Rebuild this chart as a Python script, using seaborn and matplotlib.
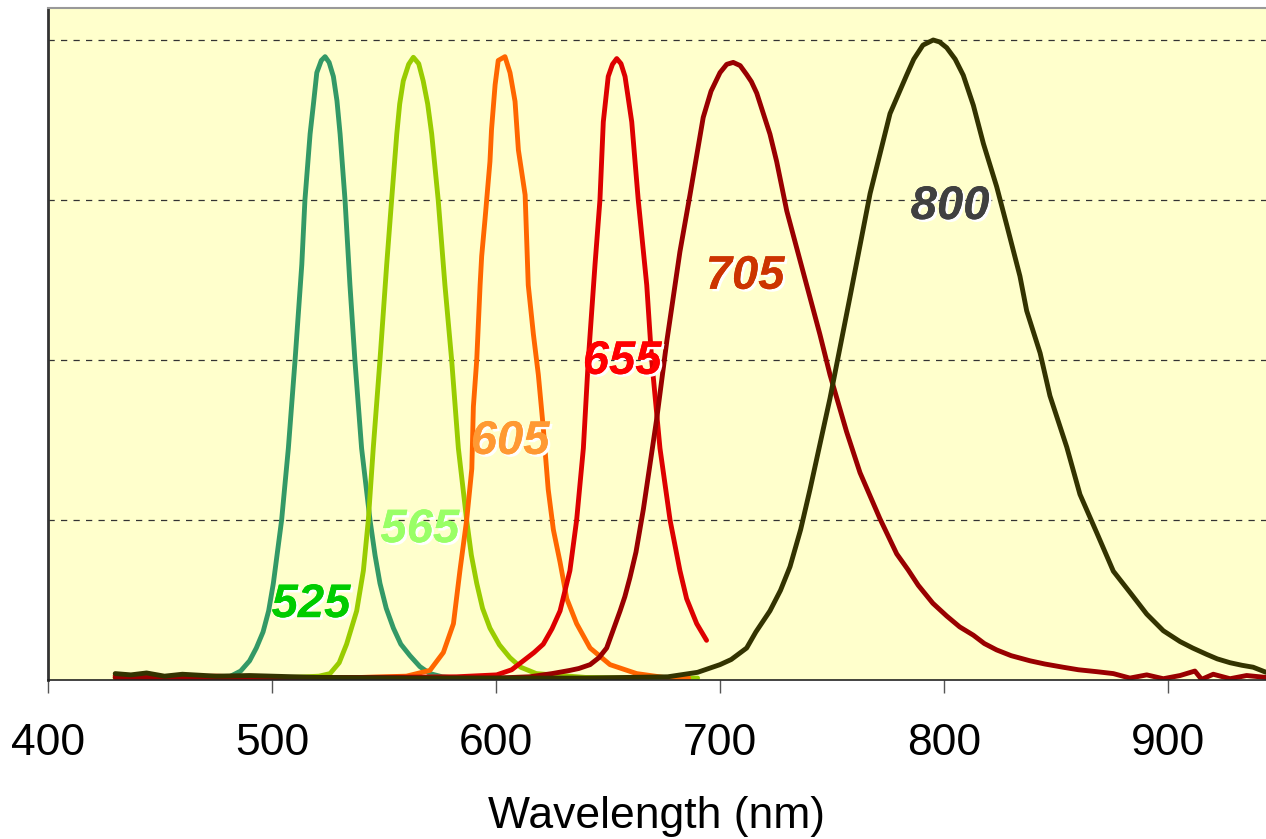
import pandas as pd
import seaborn as sns
import matplotlib.pyplot as plt
import matplotlib.patheffects as pe

# Emission spectra (wavelength in nm, normalised intensity)
wl_525 = [430, 455, 470, 481, 486, 490, 493, 496, 498.5, 500.6, 504.3, 507.3, 510.3, 513.3, 514.7,
          517, 518.5, 520, 522, 523.7, 525.5, 527.4, 529, 530.4, 532.6, 534.8, 537, 540, 543.75,
          546, 548.2, 551, 554.2, 557.5, 561.6, 566, 570.5, 576, 582.4]
int_525 = [0.006, 0.004, 0.003, 0.005, 0.014, 0.03, 0.05, 0.075, 0.108, 0.151, 0.25, 0.362, 0.5,
           0.649, 0.75, 0.853, 0.9, 0.949, 0.968, 0.974, 0.965, 0.943, 0.905, 0.853, 0.75, 0.617,
           0.5, 0.362, 0.25, 0.195, 0.151, 0.112, 0.081, 0.056, 0.038, 0.021, 0.01, 0.005, 0.003]

wl_565 = [430, 470, 500, 515.5, 521, 525.9, 530, 533.3, 537.8, 540.8, 543, 545.2, 548.2, 551.2, 553.4,
          555.7, 557, 558.6, 561, 563.1, 565.5, 567.5, 569.5, 571.3, 574.2, 577.2, 580.2, 583.2,
          586.9, 589, 591.4, 594, 597.3, 601.5, 606.2, 611, 618, 640, 665, 690]
int_565 = [0.003, 0.004, 0.003, 0.005, 0.006, 0.01, 0.027, 0.056, 0.108, 0.171, 0.25, 0.362, 0.5,
           0.649, 0.75, 0.853, 0.9, 0.936, 0.962, 0.973, 0.963, 0.936, 0.9, 0.853, 0.75, 0.617,
           0.5, 0.362, 0.25, 0.195, 0.151, 0.112, 0.081, 0.055, 0.035, 0.02, 0.01, 0.004, 0.003,
           0.003]

wl_605 = [430, 460, 500, 540, 560, 570.5, 576.5, 581, 583.9, 586.9, 589.2, 589.9, 591.4, 592.9, 593.6,
          595.1, 597.3, 598, 599.6, 601, 604, 606.25, 608.5, 610, 613, 614.4, 616.7, 618.9, 621.1,
          623.3, 625.6, 628.6, 631.6, 636, 642, 650.9, 662.8, 675, 686]
int_605 = [0.004, 0.006, 0.003, 0.004, 0.006, 0.015, 0.043, 0.088, 0.171, 0.25, 0.33, 0.427, 0.5, 0.617,
           0.662, 0.72, 0.81, 0.86, 0.93, 0.968, 0.974, 0.949, 0.904, 0.828, 0.758, 0.617, 0.54,
           0.477, 0.394, 0.298, 0.235, 0.184, 0.127, 0.088, 0.05, 0.024, 0.01, 0.004, 0.003]

wl_655 = [430, 450, 475, 500, 540, 582.4, 600.3, 607, 612.2, 617, 621.1, 625, 628.6, 633, 636, 639,
          641.2, 644.2, 646.4, 647.9, 650.1, 652, 653.9, 655.8, 657.6, 659, 660.6, 663.5, 667.3,
          669.5, 673.2, 677.7, 682.1, 685.1, 689.6, 694]
int_655 = [0.007, 0.004, 0.006, 0.003, 0.004, 0.005, 0.008, 0.016, 0.03, 0.043, 0.056, 0.08, 0.108,
           0.171, 0.25, 0.362, 0.5, 0.649, 0.75, 0.872, 0.943, 0.962, 0.971, 0.963, 0.943, 0.91,
           0.872, 0.75, 0.617, 0.5, 0.362, 0.25, 0.171, 0.127, 0.088, 0.062]

wl_705 = [430, 480, 530, 600, 615, 625, 633, 637, 642, 646, 649.4, 652, 655.4, 657.5, 659.8, 662.5,
          665.8, 671.7, 676.2, 682.1, 686.6, 692.5, 696, 700, 703, 705.9, 709, 711.9, 714, 716.4,
          722.3, 725.3, 729.8, 735.7, 744.6, 749.1, 756.5, 762.5, 771.4, 778.9, 784, 788.5, 795,
          801.2, 807, 813.1, 818, 823.5, 830, 838.4, 845, 853.1, 860, 868.2, 875.6, 883, 890.5,
          897.9, 905.4, 912, 915, 920.2, 927.7, 935.1, 943.8]
int_705 = [0.004, 0.003, 0.004, 0.003, 0.005, 0.01, 0.015, 0.018, 0.024, 0.035, 0.05, 0.075, 0.108,
           0.13, 0.16, 0.2, 0.267, 0.407, 0.528, 0.669, 0.758, 0.879, 0.92, 0.949, 0.962, 0.965,
           0.96, 0.946, 0.935, 0.917, 0.853, 0.81, 0.733, 0.656, 0.54, 0.477, 0.388, 0.324, 0.252,
           0.197, 0.172, 0.148, 0.12, 0.1, 0.083, 0.07, 0.057, 0.047, 0.038, 0.03, 0.025, 0.02,
           0.016, 0.013, 0.01, 0.003, 0.008, 0.002, 0.007, 0.014, 0.001, 0.009, 0.002, 0.007,
           0.004]

wl_800 = [430, 437, 444, 452, 460, 475, 490, 520, 560, 600, 640, 676.7, 690, 700, 705, 711.9, 716,
          722.3, 727, 731.25, 736, 740.2, 749.1, 758, 767, 775.9, 783.3, 786.5, 790.6, 795.2, 798,
          801.2, 805, 808.6, 813.1, 817.6, 823.5, 828, 833.9, 836.9, 842.9, 847.3, 854.8, 860.7,
          868.2, 875.6, 883, 890.5, 897.9, 905.4, 911, 917.3, 922, 927.7, 933, 938, 943.8]
int_800 = [0.01, 0.008, 0.011, 0.006, 0.009, 0.006, 0.007, 0.004, 0.003, 0.003, 0.003, 0.005, 0.012,
           0.024, 0.032, 0.05, 0.075, 0.108, 0.14, 0.177, 0.235, 0.298, 0.44, 0.598, 0.76, 0.885,
           0.945, 0.97, 0.992, 1.0, 0.997, 0.988, 0.97, 0.945, 0.898, 0.838, 0.771, 0.711, 0.631,
           0.577, 0.511, 0.444, 0.364, 0.29, 0.23, 0.17, 0.137, 0.103, 0.077, 0.06, 0.05, 0.04,
           0.033, 0.027, 0.023, 0.02, 0.012]

dyes = ['525', '565', '605', '655', '705', '800']
line_colors = ['#339966', '#99CC00', '#FF6600', '#DD0000', '#990000', '#333300']
label_colors = ['#00CC00', '#99FF66', '#FF9933', '#FF0000', '#CC3300', '#404040']
label_x = [517.4, 566, 606.3, 656.3, 711.2, 802.7]
label_y = [0.117, 0.234, 0.372, 0.497, 0.63, 0.739]

series = {'525': (wl_525, int_525), '565': (wl_565, int_565), '605': (wl_605, int_605),
          '655': (wl_655, int_655), '705': (wl_705, int_705), '800': (wl_800, int_800)}
frames = []
for name in dyes:
    wl, val = series[name]
    frames.append(pd.DataFrame({'wavelength': wl, 'intensity': val, 'dye': name}))
df = pd.concat(frames, ignore_index=True)

sns.set_theme(style='white')
plt.rcParams['font.family'] = ['Liberation Sans', 'DejaVu Sans']

fig = plt.figure(figsize=(12.66, 8.39), dpi=100)
ax = fig.add_axes([48 / 1266, 1 - 680 / 839, 1 - 48 / 1266, 672 / 839])
ax.set_facecolor('#FFFFCC')

sns.lineplot(data=df, x='wavelength', y='intensity', hue='dye', hue_order=dyes,
             palette=dict(zip(dyes, line_colors)), sort=False, estimator=None,
             linewidth=3.5, legend=False, ax=ax)
for line in ax.get_lines():
    line.set_solid_joinstyle('round')
    line.set_solid_capstyle('round')

shadow = [pe.withSimplePatchShadow(offset=(1.8, -1.8), shadow_rgbFace='white', alpha=1.0), pe.Normal()]
for name, c, x, y in zip(dyes, label_colors, label_x, label_y):
    ax.text(x, y, name, color=c, fontsize=34, fontweight='bold', fontstyle='italic',
            ha='center', va='center', path_effects=shadow)

ax.set_xlim(400, 943.75)
ax.set_ylim(0, 1.05)
ax.set_xticks([400, 500, 600, 700, 800, 900])
ax.set_yticks([0.25, 0.5, 0.75, 1.0])
ax.yaxis.grid(True, linestyle=(0, (5, 5)), color='#333333', linewidth=0.9)
ax.xaxis.grid(False)
ax.tick_params(axis='y', left=False, labelleft=False)
ax.tick_params(axis='x', bottom=True, direction='out', length=9, width=1, color='#555555',
               labelsize=32, pad=22, labelcolor='black')

ax.spines['left'].set_color('#333333')
ax.spines['left'].set_linewidth(2)
ax.spines['bottom'].set_color('#222222')
ax.spines['bottom'].set_linewidth(1.2)
ax.spines['top'].set_color('#999999')
ax.spines['top'].set_linewidth(1.5)
ax.spines['right'].set_visible(False)

ax.set_ylabel('')
ax.set_xlabel('Wavelength (nm)', fontsize=32, labelpad=23, color='black')

fig.savefig('out.png', dpi=100, facecolor='white')
